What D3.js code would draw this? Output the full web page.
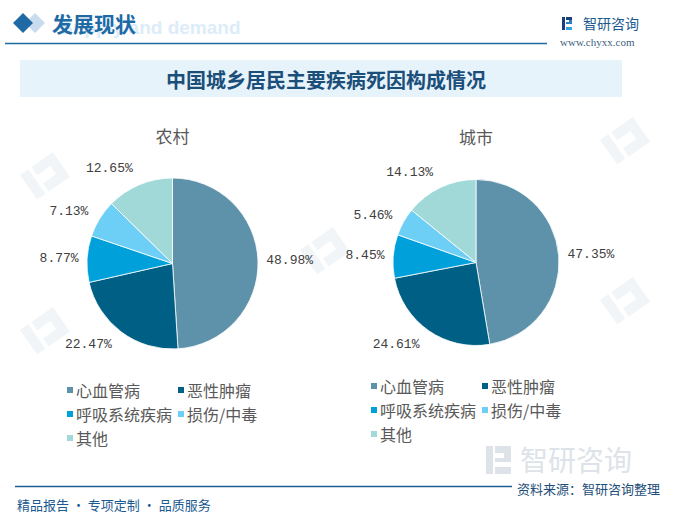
<!DOCTYPE html>
<html><head><meta charset="utf-8">
<script src="https://cdn.jsdelivr.net/npm/d3@7"></script>
<style>body{margin:0;background:#fff}svg{display:block}</style>
</head><body>
<svg id="c" width="673" height="513"></svg>
<script>
const categories = ["心血管病","恶性肿瘤","呼吸系统疾病","损伤/中毒","其他"];
const ruralValues = [48.98,22.47,8.77,7.13,12.65];
const urbanValues = [47.35,24.61,8.45,5.46,14.13];
const panelTitles = ["农村","城市"];
const colors = ["#5d92aa","#005f84","#00a1db","#6dcff6","#a1d9d9"];
const chartTitle = "中国城乡居民主要疾病死因构成情况";

const svg = d3.select("#c");
const CJK = "'Noto Sans CJK SC','Noto Sans',sans-serif";

// faint background watermarks
const wm = svg.append("g").attr("fill","#f1f5f8");
[[20,175],[600,140],[600,300],[300,250],[20,330],[420,210]].forEach(([x,y])=>{
  const g = wm.append("g").attr("transform",`translate(${x},${y}) rotate(-35)`);
  g.append("rect").attr("x",0).attr("y",0).attr("width",10).attr("height",30);
  g.append("rect").attr("x",14).attr("y",0).attr("width",26).attr("height",10);
  g.append("rect").attr("x",30).attr("y",10).attr("width",10).attr("height",12);
  g.append("rect").attr("x",14).attr("y",20).attr("width",26).attr("height",10);
});

// header
svg.append("path").attr("d","M35,13 L45,23 L35,33 L25,23 Z").attr("fill","#c8dced");
svg.append("path").attr("d","M23,13 L33,23 L23,33 L13,23 Z").attr("fill","#1f6aa5");
svg.append("text").attr("x",60).attr("y",27).attr("dominant-baseline","central")
  .attr("font-family","Liberation Sans,Arial,sans-serif").attr("font-weight","bold")
  .attr("font-size",19).attr("fill","#dcecf8").text("Supply and demand");
svg.append("text").attr("x",52).attr("y",23).attr("dominant-baseline","central")
  .attr("font-family",CJK).attr("font-weight","bold").attr("font-size",21)
  .attr("fill","#1d6aa5").text("发展现状");
svg.append("line").attr("x1",5).attr("x2",547).attr("y1",43.5).attr("y2",43.5)
  .attr("stroke","#1f6aa0").attr("stroke-width",1.5);
// logo
const lg = svg.append("g").attr("transform","translate(562,17)");
lg.append("rect").attr("x",0).attr("y",0).attr("width",3).attr("height",13).attr("fill","#1a3f7a");
lg.append("rect").attr("x",4).attr("y",0).attr("width",6).attr("height",3).attr("fill","#1a3f7a");
lg.append("rect").attr("x",7).attr("y",3).attr("width",3).attr("height",4).attr("fill","#2a7fc4");
lg.append("rect").attr("x",4).attr("y",5).attr("width",4).attr("height",2).attr("fill","#2a7fc4");
lg.append("rect").attr("x",4).attr("y",10).attr("width",6).attr("height",3).attr("fill","#3aa0e0");
svg.append("text").attr("x",583).attr("y",23).attr("dominant-baseline","central")
  .attr("font-family",CJK).attr("font-size",14).attr("fill","#1a5a90").text("智研咨询");
svg.append("text").attr("x",560).attr("y",42).attr("dominant-baseline","central")
  .attr("font-family","'Liberation Serif',serif").attr("font-size",11).attr("fill","#3e5f80")
  .text("www.chyxx.com");

// title bar
svg.append("rect").attr("x",20).attr("y",60).attr("width",602).attr("height",37).attr("fill","#e6f3fb");
svg.append("text").attr("x",326).attr("y",79).attr("text-anchor","middle").attr("dominant-baseline","central")
  .attr("font-family",CJK).attr("font-weight","bold").attr("font-size",20).attr("fill","#1b4f7a")
  .text(chartTitle);

// pies
const panels = [
  {values:ruralValues, cx:172.5, cy:263.5, r:85.5, ty:135, lx:67, ly:390},
  {values:urbanValues, cx:476, cy:262.5, r:83, ty:136, lx:371, ly:386}
];
const pie = d3.pie().sort(null).value(d=>d);
panels.forEach((p,i)=>{
  const g = svg.append("g").attr("transform",`translate(${p.cx},${p.cy})`);
  const arcs = pie(p.values);
  const arc = d3.arc().innerRadius(0).outerRadius(p.r);
  g.selectAll("path").data(arcs).join("path")
    .attr("d",arc).attr("fill",(d,j)=>colors[j]).attr("stroke","#fff").attr("stroke-width",0.8);
  g.selectAll("text.lbl").data(arcs).join("text").attr("class","lbl")
    .each(function(d){
      const m=(d.startAngle+d.endAngle)/2, ux=Math.sin(m), uy=-Math.cos(m);
      const dist=p.r+8+10*Math.abs(uy);
      d3.select(this).attr("x",ux*dist).attr("y",uy*dist)
        .attr("text-anchor",ux>=0?"start":"end");
    })
    .attr("dominant-baseline","central")
    .attr("font-family","'Liberation Mono','DejaVu Sans Mono',monospace")
    .attr("font-size",13).attr("fill","#404040")
    .text(d=>d.data.toFixed(2)+"%");
  svg.append("text").attr("x",p.cx).attr("y",p.ty).attr("text-anchor","middle")
    .attr("dominant-baseline","central").attr("font-family",CJK).attr("font-size",17)
    .attr("fill","#595959").text(panelTitles[i]);
  // legend
  const lgG = svg.append("g");
  categories.forEach((c,j)=>{
    const col=j%2, row=Math.floor(j/2);
    const x=p.lx+col*111, y=p.ly+row*24;
    lgG.append("rect").attr("x",x).attr("y",y-3).attr("width",6).attr("height",6).attr("fill",colors[j]);
    lgG.append("text").attr("x",x+9).attr("y",y).attr("dominant-baseline","central")
      .attr("font-family",CJK).attr("font-size",16).attr("fill","#595959").text(c);
  });
});

// bottom-right watermark logo
const bw = svg.append("g").attr("transform","translate(486,446)").attr("fill","#dde3e8");
bw.append("rect").attr("x",0).attr("y",0).attr("width",7).attr("height",28);
bw.append("rect").attr("x",9).attr("y",0).attr("width",16).attr("height",7);
bw.append("rect").attr("x",18).attr("y",7).attr("width",7).attr("height",9);
bw.append("rect").attr("x",9).attr("y",12).attr("width",9).attr("height",4);
bw.append("rect").attr("x",9).attr("y",21).attr("width",16).attr("height",7);
svg.append("text").attr("x",520).attr("y",459).attr("dominant-baseline","central")
  .attr("font-family",CJK).attr("font-size",28).attr("fill","#dde3e8").text("智研咨询");

// footer
svg.append("line").attr("x1",15).attr("x2",512).attr("y1",486.5).attr("y2",486.5)
  .attr("stroke","#1f5f8f").attr("stroke-width",1.5);
svg.append("text").attr("x",660).attr("y",488).attr("text-anchor","end").attr("dominant-baseline","central")
  .attr("font-family",CJK).attr("font-size",13).attr("fill","#1d4e79").text("资料来源：智研咨询整理");
svg.append("text").attr("x",17).attr("y",504).attr("dominant-baseline","central")
  .attr("font-family",CJK).attr("font-size",13).attr("fill","#1a5a90").text("精品报告 · 专项定制 · 品质服务");
</script>
</body></html>
